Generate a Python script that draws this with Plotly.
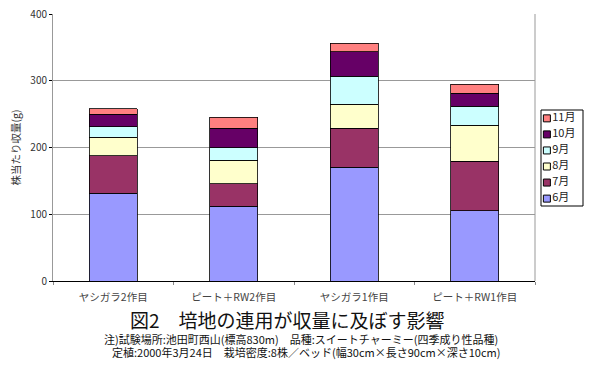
import plotly.graph_objects as go

categories = ["ヤシガラ2作目", "ピート＋RW2作目", "ヤシガラ1作目", "ピート＋RW1作目"]
months = ["6月", "7月", "8月", "9月", "10月", "11月"]
values = {
    "6月": [131.5, 112, 170.5, 105],
    "7月": [56, 33.5, 58.5, 74.5],
    "8月": [27.5, 35.5, 36, 53.5],
    "9月": [16, 19, 41.5, 28.5],
    "10月": [19, 29, 37, 20],
    "11月": [8, 16.5, 13, 13.5],
}
colors = {
    "6月": "#9999FF", "7月": "#993366", "8月": "#FFFFCC",
    "9月": "#CCFFFF", "10月": "#660066", "11月": "#FF8080",
}
y_ticks = [0, 100, 200, 300, 400]
title_text = "図2　培地の連用が収量に及ぼす影響"
note1 = "注)試験場所:池田町西山(標高830m)　品種:スイートチャーミー(四季成り性品種)"
note2 = "定植:2000年3月24日　栽培密度:8株／ベッド(幅30cm×長さ90cm×深さ10cm)"

FONT = "Noto Sans CJK JP"

# page has an 8px body margin; figure is sized to fill the rest of the window
OFF = 8
W, H = 592, 365
L, R, T, B = 45, 17, 6, 92

def px(page_x):
    return (page_x - OFF - L) / (W - L - R)

def py(page_y):
    return (H - B - (page_y - OFF)) / (H - T - B)

fig = go.Figure()
for m in months:
    fig.add_trace(go.Bar(
        x=categories, y=values[m], name=m, showlegend=False,
        marker=dict(color=colors[m], line=dict(color="#000000", width=0.8)),
    ))

# legend drawn on its own small axes
fig.add_trace(go.Scatter(
    x=[0.14] * len(months), y=list(range(len(months))), text=months,
    mode="markers+text", textposition="middle right", showlegend=False,
    marker=dict(symbol="square", size=7, color=[colors[m] for m in months],
                line=dict(color="#000000", width=1)),
    textfont=dict(size=11, color="#222222", family=FONT),
    xaxis="x2", yaxis="y2", hoverinfo="skip",
))

fig.add_hline(y=100, line=dict(color="#000000", width=1), layer="below")
fig.add_hline(y=max(y_ticks), line=dict(color="#999999", width=1), layer="below")

fig.update_layout(
    barmode="stack", bargap=0.6,
    width=W, height=H,
    margin=dict(l=L, r=R, t=T, b=B, autoexpand=False),
    paper_bgcolor="white", plot_bgcolor="white",
    font=dict(family=FONT, size=10, color="#333333"),
    showlegend=False,
    xaxis=dict(
        domain=[0, px(535)],
        showline=True, linecolor="#000000", linewidth=1,
        ticks="outside", tickson="boundaries", ticklen=3, tickcolor="#888888",
        tickfont=dict(size=10.5, color="#444444"), ticklabelstandoff=6,
    ),
    yaxis=dict(
        range=[0, 400], tickvals=y_ticks, showgrid=True, gridcolor="#999999",
        gridwidth=1, showline=True, linecolor="#999999", linewidth=1,
        ticks="outside", ticklen=3, tickcolor="#000000",
        tickfont=dict(size=10, color="#333333"), ticklabeloverflow="allow",
        title=dict(text="株当たり収量(g)", font=dict(size=10.5, color="#333333"), standoff=7),
        zeroline=False,
    ),
    xaxis2=dict(domain=[px(541), px(583)], range=[0, 1], visible=False, fixedrange=True),
    yaxis2=dict(domain=[py(206), py(110)], range=[-0.46, 5.52], visible=False,
                anchor="x2", fixedrange=True),
    annotations=[
        dict(text=title_text, x=px(287.5), y=py(319), xref="paper", yref="paper",
             xanchor="center", yanchor="middle", showarrow=False,
             font=dict(size=19, color="#111111", family=FONT)),
        dict(text=note1, x=px(301), y=py(338.5), xref="paper", yref="paper",
             xanchor="center", yanchor="middle", showarrow=False,
             font=dict(size=11, color="#111111", family=FONT)),
        dict(text=note2, x=px(306), y=py(352.5), xref="paper", yref="paper",
             xanchor="center", yanchor="middle", showarrow=False,
             font=dict(size=11, color="#111111", family=FONT)),
    ],
    shapes=[
        dict(type="line", xref="x domain", yref="paper", x0=1, x1=1, y0=0, y1=1,
             line=dict(color="#999999", width=1)),
        dict(type="rect", xref="x2 domain", yref="y2 domain", x0=0, x1=1, y0=0, y1=1,
             line=dict(color="#000000", width=1)),
    ],
)

fig.write_html("out.html")
